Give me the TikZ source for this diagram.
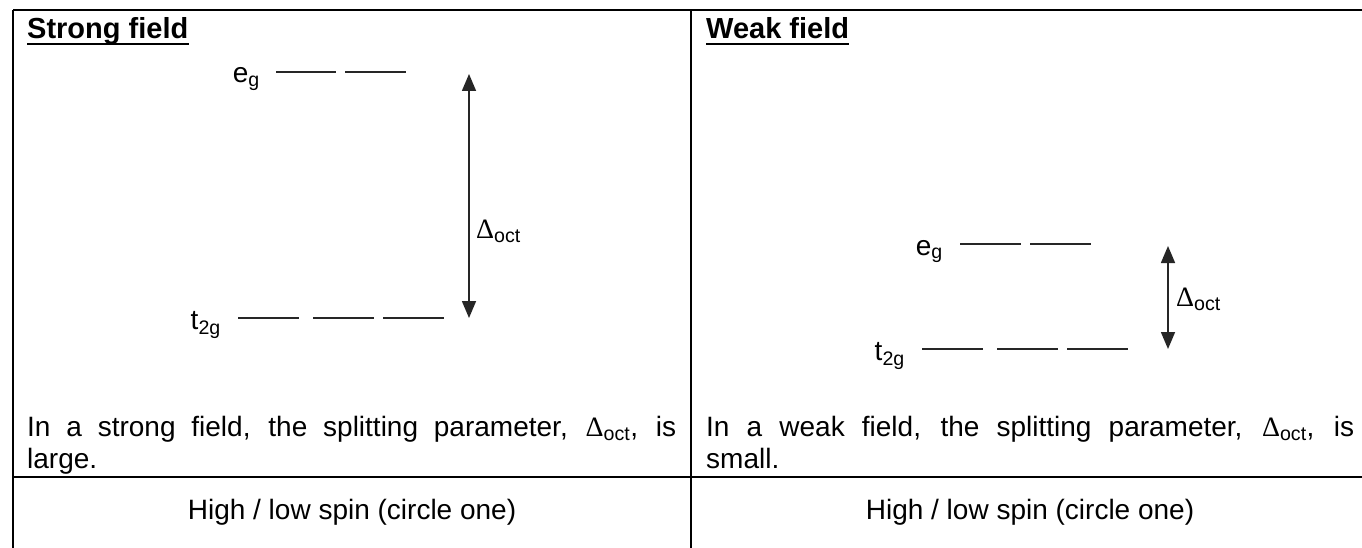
\documentclass[tikz,border=0pt]{standalone}
\usepackage{fontspec}
\setmainfont{Liberation Sans}
\newfontfamily\deltafont{Liberation Serif}
\newcommand{\dlt}{{\deltafont\char"0394}}
\usetikzlibrary{arrows.meta}
\begin{document}
\begin{tikzpicture}[x=1pt,y=-1pt,
  txt/.style={inner sep=0pt, font=\fontsize{28}{33}\selectfont},
  head/.style={inner sep=0pt, font=\fontsize{29}{34}\selectfont\bfseries},
  border/.style={line width=2pt, black},
  ul/.style={line width=2.4pt, black},
  level/.style={line width=1.3pt, black!85},
  gaparrow/.style={{Triangle[width=14pt,length=17pt]}-{Triangle[width=14pt,length=17pt]}, line width=1.6pt, black!85}
]
\useasboundingbox (0,0) rectangle (1362,548);
\fill[white] (0,0) rectangle (1362,548);

% table rules
\coordinate (tl) at (13,10);
\coordinate (tr) at (1362,10);
\coordinate (bl) at (13,548);
\coordinate (tm) at (691,10);
\coordinate (bm) at (691,548);
\coordinate (sl) at (13,477);
\coordinate (sr) at (1362,477);
\draw[border] (tl) -- (tr);
\draw[border] (tl) -- (bl);
\draw[border] (tm) -- (bm);
\draw[border] (sl) -- (sr);

% headings
\node[head, anchor=base west] (h1) at (27,39) {Strong field};
\draw[ul] ([yshift=-5pt]h1.base west) -- ([yshift=-5pt]h1.base east);
\node[head, anchor=base west] (h2) at (706,39) {Weak field};
\draw[ul] ([yshift=-5pt]h2.base west) -- ([yshift=-5pt]h2.base east);

% ---- strong field diagram ----
\node[txt, anchor=base east] (eg1) at (260,83) {e\textsubscript{g}};
\draw[level] (276,72) -- (336,72);
\draw[level] (345,72) -- (406,72);
\node[txt, anchor=base east] (tg1) at (221,329) {t\textsubscript{2g}};
\draw[level] (238,318) -- (299,318);
\draw[level] (313,318) -- (374,318);
\draw[level] (383,318) -- (444,318);
\coordinate (a1t) at (469,74);
\coordinate (a1b) at (469,318);
\draw[gaparrow] (a1b) -- (a1t);
\node[txt, anchor=base west] (d1) at (476,238) {\dlt\textsubscript{oct}};

% ---- weak field diagram ----
\node[txt, anchor=base east] (eg2) at (943,255) {e\textsubscript{g}};
\draw[level] (960,244) -- (1021,244);
\draw[level] (1030,244) -- (1091,244);
\node[txt, anchor=base east] (tg2) at (905,360) {t\textsubscript{2g}};
\draw[level] (922,349) -- (983,349);
\draw[level] (997,349) -- (1058,349);
\draw[level] (1067,349) -- (1128,349);
\coordinate (a2t) at (1168,246);
\coordinate (a2b) at (1168,349);
\draw[gaparrow] (a2b) -- (a2t);
\node[txt, anchor=base west] (d2) at (1176,306) {\dlt\textsubscript{oct}};

% ---- explanations ----
\node[txt, anchor=base west] (p1a) at (27,436) {\makebox[649pt][s]{In a strong field, the splitting parameter, \dlt\textsubscript{oct}, is}};
\node[txt, anchor=base west] (p1b) at (27,468) {large.};
\node[txt, anchor=base west] (p2a) at (706,436) {\makebox[648pt][s]{In a weak field, the splitting parameter, \dlt\textsubscript{oct}, is}};
\node[txt, anchor=base west] (p2b) at (706,468) {small.};

% ---- bottom row ----
\node[txt, anchor=base] (s1) at (352,519) {High / low spin (circle one)};
\node[txt, anchor=base] (s2) at (1030,519) {High / low spin (circle one)};
\end{tikzpicture}
\end{document}
